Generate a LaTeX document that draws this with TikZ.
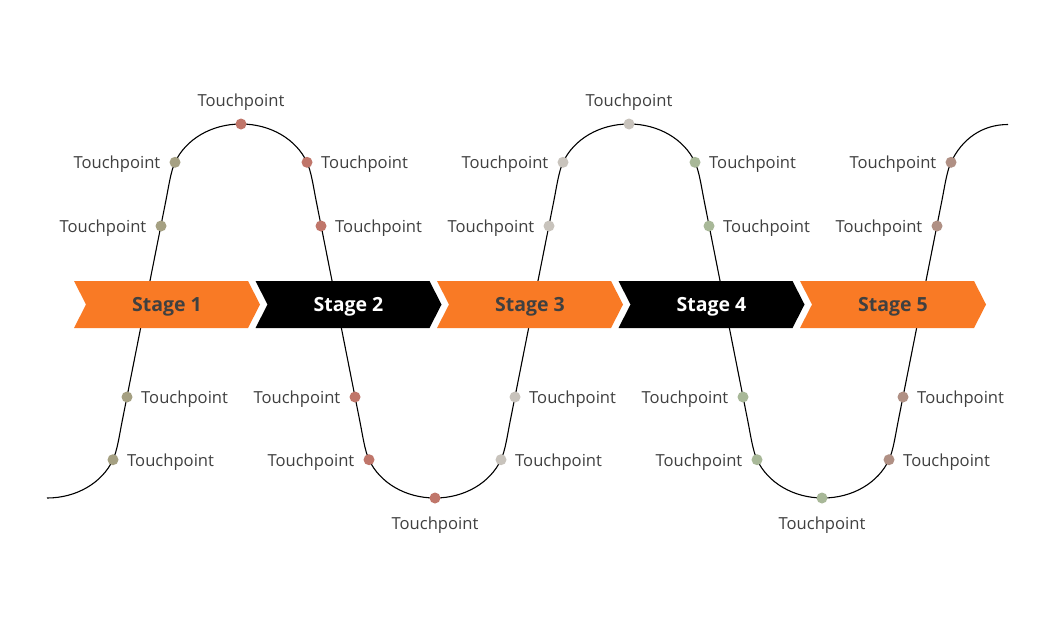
\documentclass[tikz,border=0pt]{standalone}
\usepackage{fontspec}
\setmainfont{Open Sans}
\usetikzlibrary{calc}
\definecolor{orng}{HTML}{F97A25}
\definecolor{txtg}{HTML}{404040}
\definecolor{cOlive}{HTML}{A5A082}
\definecolor{cRed}{HTML}{C0766A}
\definecolor{cGrey}{HTML}{C8C3BC}
\definecolor{cGreen}{HTML}{A8B898}
\definecolor{cBrown}{HTML}{B09084}
\begin{document}
\begin{tikzpicture}[x=1pt,y=-1pt,
  dot/.style={circle,fill=#1,inner sep=0pt,minimum size=11pt},
  lbl/.style={inner sep=0pt,text=txtg,font=\fontsize{16.6}{19}\selectfont},
  lblR/.style={lbl,anchor=base west},
  lblL/.style={lbl,anchor=base east},
  lblC/.style={lbl,anchor=base},
  stagelbl/.style={anchor=base,inner sep=0pt,font=\bfseries\fontsize{19.5}{22}\selectfont,text=#1},
  curve/.style={draw=black,line width=1.1pt}]
\useasboundingbox (0,0) rectangle (1064,632);
\fill[white] (0,0) rectangle (1064,632);
% wave
\draw[curve] (47,498)
  .. controls (76.5,498) and (102.2,482.8) .. (113,459.7)
  .. controls (117.3,450.5) and (119.6,434) .. (122,422)
  -- (166,200)
  .. controls (168.4,188) and (170.7,171.5) .. (175,162.3)
  .. controls (185.8,139.2) and (211.5,124) .. (241,124)
  .. controls (270.5,124) and (296.2,139.2) .. (307,162.3)
  .. controls (311.3,171.5) and (313.6,188) .. (316,200)
  -- (360,422)
  .. controls (362.4,434) and (364.7,450.5) .. (369,459.7)
  .. controls (379.8,482.8) and (405.5,498) .. (435,498)
  .. controls (464.5,498) and (490.2,482.8) .. (501,459.7)
  .. controls (505.3,450.5) and (507.6,434) .. (510,422)
  -- (554,200)
  .. controls (556.4,188) and (558.7,171.5) .. (563,162.3)
  .. controls (573.8,139.2) and (599.5,124) .. (629,124)
  .. controls (658.5,124) and (684.2,139.2) .. (695,162.3)
  .. controls (699.3,171.5) and (701.6,188) .. (704,200)
  -- (748,422)
  .. controls (750.4,434) and (752.7,450.5) .. (757,459.7)
  .. controls (767.8,482.8) and (793.5,498) .. (823,498)
  .. controls (852.5,498) and (878.2,482.8) .. (889,459.7)
  .. controls (893.3,450.5) and (895.6,434) .. (898,422)
  -- (942,200)
  .. controls (944.4,188) and (946.7,171.5) .. (951,162.3)
  .. controls (961.8,139.2) and (982,124.5) .. (1008,124.5);
% chevrons
\foreach \i/\c in {0/orng,1/black,2/orng,3/black,4/orng}{
  \pgfmathsetmacro{\xo}{74+181.5*\i}
  \fill[\c] (\xo,281) -- (\xo+174,281) -- (\xo+186,304.5) -- (\xo+174,328) -- (\xo,328) -- (\xo+12,304.5) -- cycle;
}
\node[stagelbl=txtg] (s1) at (167,311.5) {Stage 1};
\node[stagelbl=white] (s2) at (348.5,311.5) {Stage 2};
\node[stagelbl=txtg] (s3) at (530,311.5) {Stage 3};
\node[stagelbl=white] (s4) at (711.5,311.5) {Stage 4};
\node[stagelbl=txtg] (s5) at (893,311.5) {Stage 5};
% dots, section 1
\node[dot=cOlive] (a1) at (113,459.7) {};
\node[dot=cOlive] (a2) at (127,397) {};
\node[dot=cOlive] (a3) at (161,226) {};
\node[dot=cOlive] (a4) at (175,162.3) {};
\node[lblR] at ($(a1)+(14,6.5)$) {Touchpoint};
\node[lblR] at ($(a2)+(14,6)$) {Touchpoint};
\node[lblL] at ($(a3)+(-14.5,6)$) {Touchpoint};
\node[lblL] at ($(a4)+(-14.5,6)$) {Touchpoint};
\node[dot=cRed] (t1) at (241,124) {};
\node[lblC] at ($(t1)+(0,-17.5)$) {Touchpoint};
% section 2
\node[dot=cRed] (b1) at (307,162.3) {};
\node[dot=cRed] (b2) at (321,226) {};
\node[dot=cRed] (b3) at (355,397) {};
\node[dot=cRed] (b4) at (369,459.7) {};
\node[lblR] at ($(b1)+(14,6)$) {Touchpoint};
\node[lblR] at ($(b2)+(14,6)$) {Touchpoint};
\node[lblL] at ($(b3)+(-14.5,6)$) {Touchpoint};
\node[lblL] at ($(b4)+(-14.5,6.5)$) {Touchpoint};
\node[dot=cRed] (u1) at (435,498) {};
\node[lblC] at ($(u1)+(0,31.2)$) {Touchpoint};
% section 3
\node[dot=cGrey] (c1) at (501,459.7) {};
\node[dot=cGrey] (c2) at (515,397) {};
\node[dot=cGrey] (c3) at (549,226) {};
\node[dot=cGrey] (c4) at (563,162.3) {};
\node[lblR] at ($(c1)+(14,6.5)$) {Touchpoint};
\node[lblR] at ($(c2)+(14,6)$) {Touchpoint};
\node[lblL] at ($(c3)+(-14.5,6)$) {Touchpoint};
\node[lblL] at ($(c4)+(-14.5,6)$) {Touchpoint};
\node[dot=cGrey] (t2) at (629,124) {};
\node[lblC] at ($(t2)+(0,-17.5)$) {Touchpoint};
% section 4
\node[dot=cGreen] (e1) at (695,162.3) {};
\node[dot=cGreen] (e2) at (709,226) {};
\node[dot=cGreen] (e3) at (743,397) {};
\node[dot=cGreen] (e4) at (757,459.7) {};
\node[lblR] at ($(e1)+(14,6)$) {Touchpoint};
\node[lblR] at ($(e2)+(14,6)$) {Touchpoint};
\node[lblL] at ($(e3)+(-14.5,6)$) {Touchpoint};
\node[lblL] at ($(e4)+(-14.5,6.5)$) {Touchpoint};
\node[dot=cGreen] (u2) at (822,498) {};
\node[lblC] at ($(u2)+(0,31.2)$) {Touchpoint};
% section 5
\node[dot=cBrown] (f1) at (889,459.7) {};
\node[dot=cBrown] (f2) at (903,397) {};
\node[dot=cBrown] (f3) at (937,226) {};
\node[dot=cBrown] (f4) at (951,162.3) {};
\node[lblR] at ($(f1)+(14,6.5)$) {Touchpoint};
\node[lblR] at ($(f2)+(14,6)$) {Touchpoint};
\node[lblL] at ($(f3)+(-14.5,6)$) {Touchpoint};
\node[lblL] at ($(f4)+(-14.5,6)$) {Touchpoint};
\end{tikzpicture}
\end{document}
